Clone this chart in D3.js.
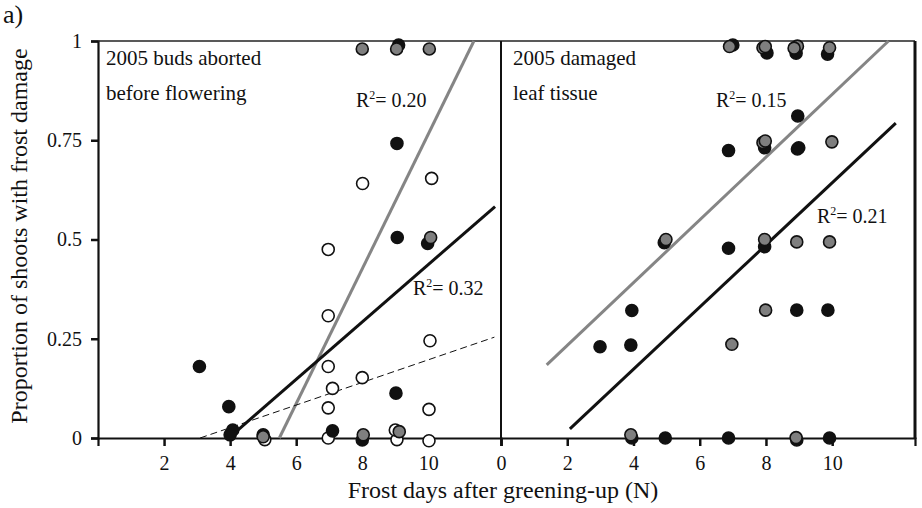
<!DOCTYPE html>
<html>
<head>
<meta charset="utf-8">
<script src="https://cdn.jsdelivr.net/npm/d3@7"></script>
<style>
  body { margin: 0; background: #fff; }
  svg text { font-family: "Liberation Serif", "Times New Roman", serif; fill: #111; }
  .axis path, .axis line { stroke: #111; }
</style>
</head>
<body>
<script>
const w = 922;
const h = 508;

// plot area, shared by both panels
const top0 = 41, bottom0 = 438;
const leftX0 = 98, midX = 501, rightX1 = 915;

// left panel: buds aborted before flowering
const leftOpen = [[6.97,0.475],[8.01,0.641],[10.1,0.654],[6.97,0.308],[10.05,0.245],[6.97,0.18],[8.0,0.152],
  [7.1,0.125],[6.97,0.076],[10.02,0.072],[6.97,0],[9.05,-0.004],[9.0,0.02],[10.02,-0.007],[5.05,-0.004]];
const leftBlack = [[9.1,0.99],[9.05,0.742],[9.06,0.505],[9.98,0.49],[9.02,0.113],[7.1,0.018],[8.0,-0.005],
  [3.07,0.18],[3.96,0.079],[4.08,0.02],[4.0,0.008],[5.0,0.008]];
const leftGray = [[8.0,0.98],[9.04,0.98],[10.03,0.98],[10.07,0.505],[8.03,0.008],[9.12,0.016],[5.0,0.003]];

// right panel: damaged leaf tissue
const rightBlack = [[7.0,0.99],[8.03,0.97],[8.91,0.969],[9.86,0.967],[8.96,0.811],[6.87,0.724],[7.96,0.731],
  [8.95,0.728],[8.99,0.731],[6.87,0.478],[7.96,0.482],[4.93,0.492],[2.99,0.23],[3.95,0.321],[3.92,0.234],
  [3.95,0],[4.96,0],[6.87,0],[8.93,0.322],[9.87,0.322],[8.93,-0.005],[9.92,0]];
const rightGray = [[6.9,0.986],[7.91,0.983],[7.98,0.986],[8.95,0.987],[8.85,0.982],[9.92,0.983],[7.91,0.744],
  [7.98,0.748],[9.99,0.746],[4.98,0.5],[7.96,0.5],[8.93,0.494],[9.92,0.494],[6.97,0.236],[7.99,0.322],
  [3.92,0.008],[8.91,0.001]];

// regression lines, end points [x0,y0,x1,y1]
const leftFits = [
  {kind: "gray",   pts: [5.49, 0, 11.38, 1]},
  {kind: "black",  pts: [4.0, 0.003, 12.02, 0.583]},
  {kind: "dashed", pts: [3.09, 0, 12.0, 0.254]}
];
const rightFits = [
  {kind: "gray",  pts: [1.38, 0.184, 11.7, 1.0]},
  {kind: "black", pts: [2.08, 0.023, 11.92, 0.793]}
];

const yTicks = [0, 0.25, 0.5, 0.75, 1];
const yTickLabels = ["0", "0.25", "0.5", "0.75", "1"];
const leftXTicks = [2, 4, 6, 8, 10];
const rightXTicks = [0, 2, 4, 6, 8, 10];

const r2Labels = [
  {panel: "left",  x: 356, y: 107, value: "0.20"},
  {panel: "left",  x: 413, y: 295, value: "0.32"},
  {panel: "right", x: 716, y: 107, value: "0.15"},
  {panel: "right", x: 817, y: 223, value: "0.21"}
];

const svg = d3.select("body").append("svg")
  .attr("width", w)
  .attr("height", h);

const y = d3.scaleLinear().domain([0, 1]).range([bottom0, top0]);
const xL = d3.scaleLinear().domain([0, 12.2]).range([leftX0, midX]);
const xR = d3.scaleLinear().domain([0, 12.5]).range([midX, rightX1]);

//y axis
const yAxis = svg.append("g")
  .attr("class", "axis")
  .attr("transform", "translate(" + leftX0 + ",0)")
  .call(d3.axisLeft(y).tickValues(yTicks).tickSize(7).tickPadding(9)
        .tickFormat((d, i) => yTickLabels[i]));
yAxis.select(".domain").attr("stroke-width", 2.2);
yAxis.selectAll(".tick line").attr("stroke-width", 2.5);
yAxis.selectAll("text").attr("font-size", 20).attr("font-family", "Liberation Serif");

//x axes
function xAxisG(scale, ticks) {
  const g = svg.append("g")
    .attr("class", "axis")
    .attr("transform", "translate(0," + bottom0 + ")")
    .call(d3.axisBottom(scale).tickValues(ticks).tickSize(8).tickPadding(10).tickFormat(d3.format("d")));
  g.select(".domain").attr("stroke-width", 2.2);
  g.selectAll(".tick line").attr("stroke-width", 2.5);
  g.selectAll("text").attr("font-size", 20).attr("font-family", "Liberation Serif");
  return g;
}
xAxisG(xL, leftXTicks);
xAxisG(xR, rightXTicks);

//frame: top, divider and right border
svg.append("line").attr("x1", leftX0).attr("x2", rightX1).attr("y1", top0).attr("y2", top0)
  .attr("stroke", "#222").attr("stroke-width", 1.6);
svg.append("line").attr("x1", midX).attr("x2", midX).attr("y1", top0).attr("y2", bottom0)
  .attr("stroke", "#111").attr("stroke-width", 2);
svg.append("line").attr("x1", rightX1).attr("x2", rightX1).attr("y1", top0).attr("y2", bottom0 + 1)
  .attr("stroke", "#111").attr("stroke-width", 3);

//regression lines
function fits(scale, data) {
  svg.append("g").selectAll("line")
    .data(data)
    .enter().append("line")
    .attr("x1", d => scale(d.pts[0]))
    .attr("y1", d => y(d.pts[1]))
    .attr("x2", d => scale(d.pts[2]))
    .attr("y2", d => y(d.pts[3]))
    .attr("stroke", d => d.kind == "gray" ? "#858585" : "#111")
    .attr("stroke-width", d => d.kind == "dashed" ? 1 : 3)
    .attr("stroke-dasharray", d => d.kind == "dashed" ? "7,4" : null);
}
fits(xL, leftFits);
fits(xR, rightFits);

//points
function dots(scale, data, fill) {
  svg.append("g").selectAll("circle")
    .data(data)
    .enter().append("circle")
    .attr("cx", d => scale(d[0]))
    .attr("cy", d => y(d[1]))
    .attr("r", 6)
    .attr("fill", fill)
    .attr("stroke", "#111")
    .attr("stroke-width", 1.6);
}
dots(xL, leftOpen, "#fff");
dots(xL, leftBlack, "#111");
dots(xL, leftGray, "#7f7f7f");
dots(xR, rightBlack, "#111");
dots(xR, rightGray, "#7f7f7f");

//panel titles
const titles = [
  {x: 106, lines: ["2005 buds aborted", "before flowering"]},
  {x: 513, lines: ["2005 damaged", "leaf tissue"]}
];
titles.forEach(t => {
  t.lines.forEach((s, i) => {
    svg.append("text")
      .attr("x", t.x)
      .attr("y", 65 + i * 35)
      .attr("font-size", 21)
      .text(s);
  });
});

//R squared labels
r2Labels.forEach(d => {
  const txt = svg.append("text")
    .attr("x", d.x)
    .attr("y", d.y)
    .attr("font-size", 20);
  txt.append("tspan").text("R");
  txt.append("tspan").attr("font-size", 12).attr("dy", -8).text("2");
  txt.append("tspan").attr("dy", 8).text("= " + d.value);
});

//axis titles
svg.append("text")
  .attr("x", 503)
  .attr("y", 498)
  .attr("text-anchor", "middle")
  .attr("font-size", 24)
  .text("Frost days after greening-up (N)");
svg.append("text")
  .attr("transform", "translate(27,236) rotate(-90)")
  .attr("text-anchor", "middle")
  .attr("font-size", 24)
  .text("Proportion of shoots with frost damage");

svg.append("text")
  .attr("x", 3)
  .attr("y", 23)
  .attr("font-size", 26)
  .text("a)");
</script>
</body>
</html>
